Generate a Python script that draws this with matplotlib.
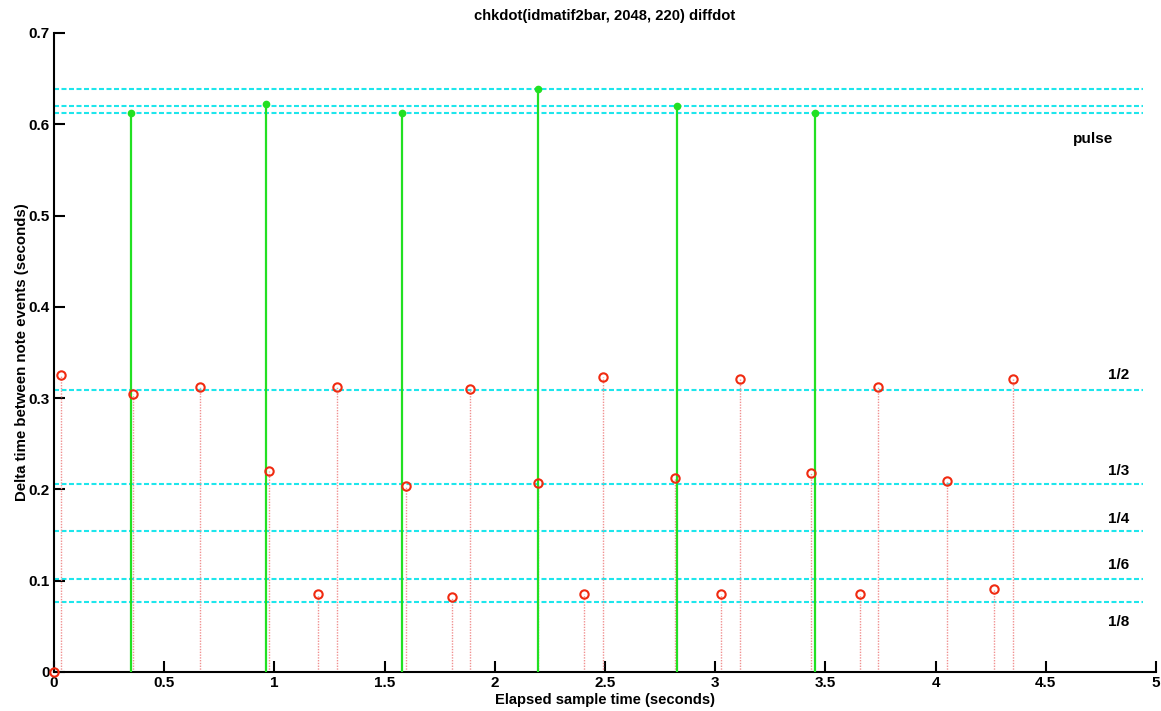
import matplotlib
matplotlib.use("Agg")
import matplotlib.pyplot as plt

plt.rcParams['font.family'] = ['Liberation Sans', 'DejaVu Sans']

# ---- data ----
title = "chkdot(idmatif2bar, 2048, 220) diffdot"
xlabel = "Elapsed sample time (seconds)"
ylabel = "Delta time between note events (seconds)"

pulse_x = [0.348, 0.960, 1.579, 2.197, 2.827, 3.453]
pulse_y = [0.612, 0.6226, 0.612, 0.6386, 0.620, 0.612]

onset_x = [0.0, 0.032, 0.360, 0.664, 0.975, 1.199, 1.286, 1.595, 1.804, 1.886,
           2.198, 2.406, 2.492, 2.816, 3.028, 3.114, 3.436, 3.655, 3.740, 4.053,
           4.265, 4.352]
delta_y = [0.0, 0.3253, 0.3042, 0.3122, 0.2202, 0.0851, 0.3120, 0.2037, 0.0825, 0.3097,
           0.2067, 0.0851, 0.3228, 0.2125, 0.0851, 0.3206, 0.2176, 0.0851, 0.3122, 0.2096,
           0.0906, 0.3206]

level_y = [0.6386, 0.6196, 0.612, 0.3093, 0.2059, 0.1541, 0.1022, 0.0770]
level_xmax = 4.94

label_text = ["pulse", "1/2", "1/3", "1/4", "1/6", "1/8"]
label_y = [0.584, 0.325, 0.220, 0.168, 0.117, 0.055]

xticks = [0, 0.5, 1, 1.5, 2, 2.5, 3, 3.5, 4, 4.5, 5]
xticklabels = ["0", "0.5", "1", "1.5", "2", "2.5", "3", "3.5", "4", "4.5", "5"]
yticks = [0, 0.1, 0.2, 0.3, 0.4, 0.5, 0.6, 0.7]
yticklabels = ["0", "0.1", "0.2", "0.3", "0.4", "0.5", "0.6", "0.7"]

# ---- figure ----
fig = plt.figure(figsize=(11.61, 7.11), dpi=100)
ax = fig.add_axes([0.0465, 0.0549, 0.9492, 0.8987])

cyan = '#1ee6ec'
green = '#22e022'
red = '#f02a10'
pink = '#f09090'

# horizontal reference levels
ax.hlines(level_y, 0, level_xmax, colors=cyan, linewidth=1.5,
          linestyles=[(0, (2.4, 1.2))], zorder=1)

# red onset stems (dotted)
ax.vlines(onset_x, 0, delta_y, colors=pink, linewidth=1.0,
          linestyles=[(0, (1, 1))], zorder=2)
ax.plot(onset_x, delta_y, linestyle='none', marker='o', markersize=6,
        markerfacecolor='none', markeredgecolor=red, markeredgewidth=1.5,
        zorder=4, clip_on=False)

# green pulse stems
ax.vlines(pulse_x, 0, pulse_y, colors=green, linewidth=1.6, zorder=3)
ax.plot(pulse_x, pulse_y, linestyle='none', marker='o', markersize=4.5,
        markerfacecolor=green, markeredgecolor=green, zorder=3)

# level labels
for t, y in zip(label_text, label_y):
    xpos = 4.623 if t == "pulse" else 4.78
    ax.text(xpos, y, t, fontsize=11, fontweight='bold', ha='left', va='center')

ax.set_xlim(0, 5)
ax.set_ylim(0, 0.7)
ax.set_xticks(xticks)
ax.set_xticklabels(xticklabels)
ax.set_yticks(yticks)
ax.set_yticklabels(yticklabels)

for s in ['top', 'right']:
    ax.spines[s].set_visible(False)
for s in ['left', 'bottom']:
    ax.spines[s].set_linewidth(1.5)
    ax.spines[s].set_color('black')

ax.tick_params(direction='in', length=8, width=1.5, labelsize=11, pad=3)
for lab in ax.get_xticklabels() + ax.get_yticklabels():
    lab.set_fontweight('bold')

ax.set_title(title, fontsize=10.6, fontweight='bold', pad=9)
ax.set_xlabel(xlabel, fontsize=10.6, fontweight='bold', labelpad=2)
ax.set_ylabel(ylabel, fontsize=10.8, fontweight='bold', labelpad=0)

fig.savefig("out.png", dpi=100)
